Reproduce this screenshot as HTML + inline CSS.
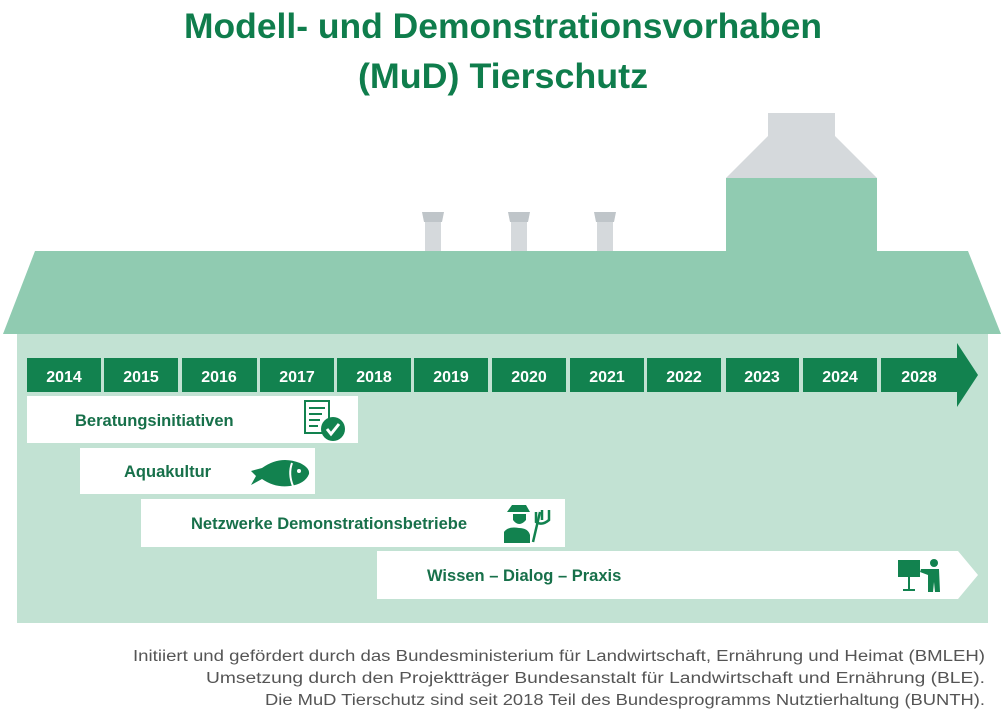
<!DOCTYPE html>
<html><head><meta charset="utf-8"><style>
html,body{margin:0;padding:0;background:#fff;}
svg{display:block;}
text{font-family:"Liberation Sans",sans-serif;}
</style></head><body>
<svg width="1007" height="717" viewBox="0 0 1007 717" xmlns="http://www.w3.org/2000/svg">
<text x="503" y="38" text-anchor="middle" font-size="35" font-weight="bold" fill="#0f7d4c" textLength="638" lengthAdjust="spacingAndGlyphs">Modell- und Demonstrationsvorhaben</text>
<text x="503" y="88" text-anchor="middle" font-size="35" font-weight="bold" fill="#0f7d4c" textLength="290" lengthAdjust="spacingAndGlyphs">(MuD) Tierschutz</text>
<!-- chimneys -->
<g fill="#d5d9dc">
<rect x="425" y="218" width="16" height="34"/><rect x="511" y="218" width="16" height="34"/><rect x="597" y="218" width="16" height="34"/>
</g>
<g fill="#bfc5c9">
<polygon points="422,212 444,212 442,222 424,222"/><polygon points="508,212 530,212 528,222 510,222"/><polygon points="594,212 616,212 614,222 596,222"/>
</g>
<rect x="768" y="113" width="67" height="25" fill="#d5d9dc"/>
<polygon points="768,136 835,136 877,178 726,178" fill="#d5d9dc"/>
<rect x="726" y="178" width="151" height="75" fill="#90cbb1"/>
<!-- body -->
<rect x="17" y="333" width="971" height="290" fill="#c2e2d3"/>
<polygon points="35,251 968,251 1001,334 3,334" fill="#90cbb1"/>
<!-- years -->
<g fill="#12824f">
<rect x="27" y="358" width="74" height="34"/><rect x="104" y="358" width="74" height="34"/><rect x="182" y="358" width="75" height="34"/><rect x="260" y="358" width="74" height="34"/><rect x="337" y="358" width="74" height="34"/><rect x="414" y="358" width="74" height="34"/><rect x="492" y="358" width="74" height="34"/><rect x="570" y="358" width="74" height="34"/><rect x="647" y="358" width="74" height="34"/><rect x="726" y="358" width="73" height="34"/><rect x="803" y="358" width="74" height="34"/>
<polygon points="881,358 957,358 957,343 978,375 957,407 957,392 881,392"/>
</g>
<g fill="#fff" font-size="16" font-weight="bold" text-anchor="middle">
<text x="64" y="382">2014</text><text x="141" y="382">2015</text><text x="219" y="382">2016</text><text x="297" y="382">2017</text><text x="374" y="382">2018</text><text x="451" y="382">2019</text><text x="529" y="382">2020</text><text x="607" y="382">2021</text><text x="684" y="382">2022</text><text x="762" y="382">2023</text><text x="840" y="382">2024</text><text x="919" y="382">2028</text>
</g>
<!-- bars -->
<g fill="#fff">
<rect x="27" y="396" width="331" height="47"/><rect x="80" y="448" width="235" height="46"/><rect x="141" y="499" width="424" height="48"/>
<polygon points="377,551 958,551 978,575 958,599 377,599"/>
</g>
<g fill="#17704a" font-size="16.5" font-weight="bold">
<text x="75" y="426">Beratungsinitiativen</text>
<text x="124" y="477">Aquakultur</text>
<text x="191" y="529">Netzwerke Demonstrationsbetriebe</text>
<text x="427" y="581">Wissen – Dialog – Praxis</text>
</g>
<!-- icons -->
<g fill="#12824f" stroke="#12824f">
<rect x="305" y="401" width="24" height="32" fill="none" stroke-width="2"/>
<g stroke-width="2"><line x1="309" y1="408" x2="325" y2="408"/><line x1="309" y1="414" x2="322" y2="414"/><line x1="309" y1="420" x2="320" y2="420"/><line x1="309" y1="426" x2="318" y2="426"/></g>
<circle cx="333" cy="429" r="12" stroke="none"/>
<polyline points="327,429 331,434 339,424" fill="none" stroke="#fff" stroke-width="3"/>
<path d="M251 471 L262 468 Q280 455 300 463 Q310 468 309 474 Q305 484 290 486 Q275 488 262 479 L251 485 L256 476 Z" stroke="none"/>
<path d="M292 463 Q288 474 293 486" fill="none" stroke="#fff" stroke-width="2"/>
<circle cx="299" cy="471" r="2" fill="#fff" stroke="none"/>
<path d="M507 512 L530 512 L526 505 L512 505 Z M513 514 L526 514 L526 520 Q519 528 513 520 Z M504 543 L504 532 Q508 526 519 528 Q528 528 530 535 L530 543 Z" stroke="none"/>
<g stroke-width="2.5"><line x1="540" y1="512" x2="533" y2="542"/><path d="M536 512 L536 522 Q542 526 549 520 L549 510 M542 510 L542 520" fill="none"/></g>
<rect x="898" y="560" width="22" height="17" stroke="none"/>
<line x1="909" y1="577" x2="909" y2="590" stroke-width="2"/><line x1="903" y1="590" x2="915" y2="590" stroke-width="2"/>
<circle cx="934" cy="563" r="4" stroke="none"/>
<path d="M929 569 L939 569 L940 592 L935 592 L934 582 L933 592 L928 592 L928 575 L920 572 L921 569 Z" stroke="none"/>
</g>
<g fill="#555" font-size="15.5" text-anchor="end">
<text x="985" y="661" textLength="852" lengthAdjust="spacingAndGlyphs">Initiiert und gefördert durch das Bundesministerium für Landwirtschaft, Ernährung und Heimat (BMLEH)</text>
<text x="985" y="683" textLength="779" lengthAdjust="spacingAndGlyphs">Umsetzung durch den Projektträger Bundesanstalt für Landwirtschaft und Ernährung (BLE).</text>
<text x="985" y="705" textLength="720" lengthAdjust="spacingAndGlyphs">Die MuD Tierschutz sind seit 2018 Teil des Bundesprogramms Nutztierhaltung (BUNTH).</text>
</g>
</svg>
</body></html>
